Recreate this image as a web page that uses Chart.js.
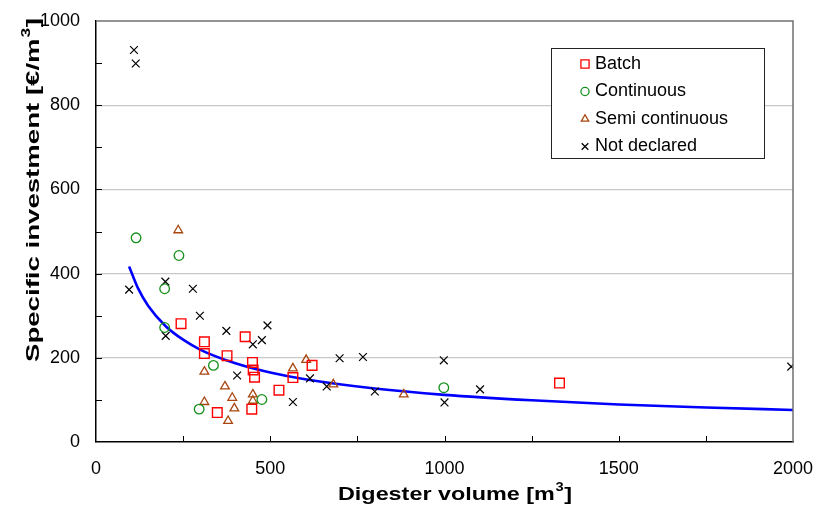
<!DOCTYPE html>
<html>
<head>
<meta charset="utf-8">
<script src="https://cdn.jsdelivr.net/npm/chart.js@4.4.0/dist/chart.umd.min.js"></script>
<style>
  html, body { margin: 0; padding: 0; background: #fff; }
  #wrapper { width: 817px; height: 506px; }
</style>
</head>
<body>
<div id="wrapper"><canvas id="volumeChart" width="817" height="506"></canvas></div>
<script>
// digester volume [m3] / specific investment [EUR/m3]
var batchVolume = [244, 311, 311, 376, 428, 449, 451, 455, 525, 348, 447, 565, 620, 1330];
var batchCost = [281, 238, 210, 205, 250, 189, 171, 154, 123, 70, 78, 153, 182, 140];

var continuousVolume = [115, 238, 197, 197, 337, 296, 476, 998];
var continuousCost = [485, 443, 364, 272, 182, 78, 101, 129];

var semiVolume = [236, 311, 370, 391, 450, 450, 311, 397, 379, 565, 603, 681, 883];
var semiCost = [503, 167, 132, 105, 113, 98, 95, 80, 50, 175, 195, 137, 113];

var otherVolume = [109, 114, 95, 199, 200, 278, 298, 374, 405, 450, 476, 492, 565, 614, 662, 699, 766, 800, 998, 1000, 1102, 1995];
var otherCost = [931, 899, 362, 381, 252, 364, 300, 264, 158, 232, 242, 277, 95, 151, 132, 199, 202, 120, 194, 94, 125, 179];

// trend line
var fitVolume = [95, 120, 150, 200, 250, 300, 400, 500, 600, 800, 1000, 1250, 1500, 1750, 2000];
var fitCost = [417, 366, 323, 275, 243, 219, 187, 165, 149, 127, 112, 99, 89, 82, 76];

var seriesNames = ['Batch', 'Continuous', 'Semi continuous', 'Not declared'];
var xTitle = ['Digester volume [m', '3', ']'];
var yTitle = ['Specific investment [\u20ac/m', '3', ']'];

var FONT = "'Liberation Sans', Arial, sans-serif";

function points(xs, ys) {
  return xs.map(function (v, i) { return { x: v, y: ys[i] }; });
}

// title with a superscript middle part, stretched to a given length
function drawTitle(ctx, parts, x, y, width, rotate) {
  var big = 'bold 19px ' + FONT;
  var small = 'bold 12px ' + FONT;
  ctx.save();
  ctx.translate(x, y);
  if (rotate) ctx.rotate(-Math.PI / 2);
  ctx.font = big;
  var w0 = ctx.measureText(parts[0]).width;
  var w2 = ctx.measureText(parts[2]).width;
  ctx.font = small;
  var w1 = ctx.measureText(parts[1]).width + 1;
  var total = w0 + w1 + w2;
  ctx.scale(width / total, 1);
  ctx.textAlign = 'left';
  var sx = -total / 2;
  ctx.font = big;
  ctx.fillText(parts[0], sx, 0);
  ctx.font = small;
  ctx.fillText(parts[1], sx + w0 + 0.5, -9);
  ctx.font = big;
  ctx.fillText(parts[2], sx + w0 + w1, 0);
  ctx.restore();
}

var framePlugin = {
  id: 'frame',
  afterDraw: function (chart) {
    var ctx = chart.ctx;
    var area = chart.chartArea;
    var xs = chart.scales.x;
    var ys = chart.scales.y;

    ctx.save();
    // top / right border
    ctx.strokeStyle = '#707070';
    ctx.lineWidth = 1.5;
    ctx.beginPath();
    ctx.moveTo(area.left, area.top);
    ctx.lineTo(area.right, area.top);
    ctx.lineTo(area.right, area.bottom);
    ctx.stroke();

    // inward tick marks
    ctx.strokeStyle = '#000';
    ctx.lineWidth = 1;
    ctx.beginPath();
    for (var v = 100; v < 1000; v += 100) {
      var py = Math.round(ys.getPixelForValue(v)) + 0.5;
      ctx.moveTo(area.left, py);
      ctx.lineTo(area.left + 6, py);
    }
    for (var u = 250; u < 2000; u += 250) {
      var px = Math.round(xs.getPixelForValue(u)) + 0.5;
      ctx.moveTo(px, area.bottom);
      ctx.lineTo(px, area.bottom - 6);
    }
    ctx.stroke();

    // axis titles
    ctx.fillStyle = '#000';
    ctx.textBaseline = 'alphabetic';
    drawTitle(ctx, yTitle, 38.5, 190, 344, true);
    drawTitle(ctx, xTitle, 455, 500, 234, false);

    // legend
    ctx.fillStyle = '#fff';
    ctx.fillRect(551, 48, 213, 110);
    ctx.strokeStyle = '#222';
    ctx.lineWidth = 1;
    ctx.strokeRect(551.5, 48.5, 213, 110);
    ctx.font = '18px ' + FONT;
    ctx.textBaseline = 'middle';
    ctx.textAlign = 'left';
    for (var i = 0; i < 4; i++) {
      var ds = chart.data.datasets[i];
      var ly = 64 + i * 27.5;
      ctx.strokeStyle = ds.borderColor;
      ctx.fillStyle = 'rgba(0,0,0,0)';
      ctx.lineWidth = 1.3;
      Chart.helpers.drawPoint(ctx, {
        pointStyle: ds.pointStyle,
        radius: ds.pointRadius * 0.85,
        borderWidth: 1.3,
        rotation: 0
      }, 585, ly);
      ctx.fillStyle = '#000';
      ctx.fillText(ds.label, 595, ly);
    }
    ctx.restore();
  }
};

var ctx = document.getElementById('volumeChart');
var volumeChart = new Chart(ctx, {
  type: 'scatter',
  data: {
    datasets: [{
      label: seriesNames[0],
      data: points(batchVolume, batchCost),
      pointStyle: 'rect',
      pointRadius: 6.8,
      borderColor: '#ff0000',
      backgroundColor: 'rgba(0,0,0,0)',
      borderWidth: 1.4
    }, {
      label: seriesNames[1],
      data: points(continuousVolume, continuousCost),
      pointStyle: 'circle',
      pointRadius: 4.8,
      borderColor: '#14901a',
      backgroundColor: 'rgba(0,0,0,0)',
      borderWidth: 1.3
    }, {
      label: seriesNames[2],
      data: points(semiVolume, semiCost),
      pointStyle: 'triangle',
      pointRadius: 5,
      borderColor: '#a8460f',
      backgroundColor: 'rgba(0,0,0,0)',
      borderWidth: 1.3
    }, {
      label: seriesNames[3],
      data: points(otherVolume, otherCost),
      pointStyle: 'crossRot',
      pointRadius: 5.5,
      borderColor: '#000000',
      backgroundColor: 'rgba(0,0,0,0)',
      borderWidth: 1.2
    }, {
      label: 'fit',
      data: points(fitVolume, fitCost),
      showLine: true,
      pointRadius: 0,
      borderColor: '#0000ff',
      borderWidth: 2.6,
      cubicInterpolationMode: 'monotone'
    }]
  },
  options: {
    responsive: false,
    animation: false,
    devicePixelRatio: 1,
    layout: { padding: { top: 21, right: 24, left: 0, bottom: 0 } },
    plugins: {
      legend: { display: false },
      tooltip: { enabled: false }
    },
    scales: {
      x: {
        type: 'linear',
        min: 0,
        max: 2000,
        afterFit: function (scale) {
          scale.height = 64;
          scale.paddingLeft = 0;
          scale.paddingRight = 0;
        },
        ticks: {
          stepSize: 500,
          padding: 16,
          color: '#000',
          font: { family: FONT, size: 18 },
          callback: function (v) { return String(v); }
        },
        grid: { display: false, drawTicks: false },
        border: { color: '#000', width: 1.5 }
      },
      y: {
        min: 0,
        max: 1000,
        afterFit: function (scale) {
          scale.width = 96;
          scale.paddingTop = 0;
          scale.paddingBottom = 0;
        },
        ticks: {
          stepSize: 200,
          padding: 16,
          color: '#000',
          font: { family: FONT, size: 18 },
          callback: function (v) { return String(v); }
        },
        grid: {
          drawTicks: false,
          color: function (c) {
            var v = c.tick ? c.tick.value : 0;
            return (v > 0 && v < 1000) ? '#c8c8c8' : 'rgba(0,0,0,0)';
          },
          lineWidth: 1.2
        },
        border: { color: '#000', width: 1.5 }
      }
    }
  },
  plugins: [framePlugin]
});
</script>
</body>
</html>
